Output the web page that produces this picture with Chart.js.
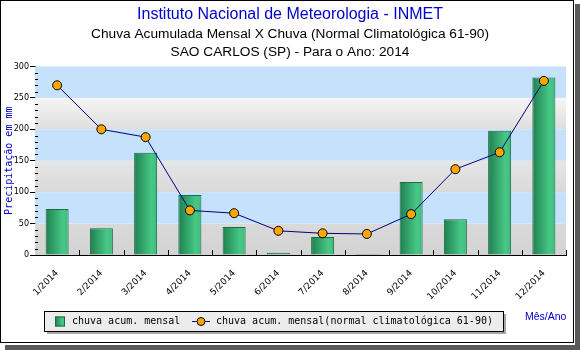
<!DOCTYPE html>
<html><head><meta charset="utf-8">
<script src="https://cdn.jsdelivr.net/npm/chart.js@4/dist/chart.umd.min.js"></script>
<style>html,body{margin:0;padding:0;background:#fff;}#wrap{width:580px;height:350px;position:relative;}</style>
</head><body><div id="wrap"><canvas id="c" width="580" height="350"></canvas></div>
<script>
// ---- data ----
const categories = ['1/2014','2/2014','3/2014','4/2014','5/2014','6/2014','7/2014','8/2014','9/2014','10/2014','11/2014','12/2014'];
const monthlyRain = [73, 42.5, 162.5, 95.5, 44.5, 3.5, 28.5, 1.5, 116, 57, 197.5, 282.5];
const normalRain = [270, 200, 187.5, 71, 66.5, 38.5, 34.5, 33.5, 65, 136.5, 163.5, 277];
const yTicks = [0, 50, 100, 150, 200, 250, 300];
const seriesLabels = ['chuva acum. mensal', 'chuva acum. mensal(normal climatológica 61-90)'];
const titleText = 'Instituto Nacional de Meteorologia - INMET';
const subtitleLines = ['Chuva Acumulada Mensal X Chuva (Normal Climatológica 61-90)', 'SAO CARLOS (SP) - Para o Ano: 2014'];
const yAxisTitle = 'Precipitação em mm';
const xAxisNote = 'Mês/Ano';

// ---- styles ----
const BLUE_BAND = '#c5e1fb';
const bands = [
  [0, 50, '#d9d9d9', '#d3d3d3'],
  [50, 100, BLUE_BAND, BLUE_BAND],
  [100, 150, '#e6e6e6', '#d9d9d9'],
  [150, 200, BLUE_BAND, BLUE_BAND],
  [200, 250, '#f6f6f6', '#dedede'],
  [250, 300, BLUE_BAND, BLUE_BAND]
];

function barGradient(ctx, x0, x1) {
  if (!isFinite(x0) || !isFinite(x1) || x0 === x1) return '#3cb371';
  const g = ctx.createLinearGradient(x0, 0, x1, 0);
  g.addColorStop(0, '#1f7f4f');
  g.addColorStop(0.75, '#47c886');
  g.addColorStop(1, '#3fbb7b');
  return g;
}

const framePlugin = {
  id: 'frame',
  beforeDraw(chart) {
    const c = chart.ctx;
    c.save();
    c.fillStyle = '#ffffff';
    c.fillRect(0, 0, 580, 350);
    c.fillStyle = '#5a5a5a';
    c.fillRect(575, 4, 5, 346);
    c.fillRect(5, 345, 575, 5);
    c.strokeStyle = '#000';
    c.lineWidth = 1;
    c.strokeRect(0.5, 0.5, 573, 342);
    c.restore();
  },
  beforeDatasetsDraw(chart) {
    const c = chart.ctx, ca = chart.chartArea, ys = chart.scales.y;
    c.save();
    bands.forEach(([a, b, top, bot]) => {
      const y0 = ys.getPixelForValue(b), y1 = ys.getPixelForValue(a);
      const g = c.createLinearGradient(0, y0, 0, y1);
      g.addColorStop(0, top); g.addColorStop(1, bot);
      c.fillStyle = g;
      c.fillRect(ca.left, y0, ca.right - ca.left, y1 - y0);
    });
    c.restore();
  },
  afterDraw(chart) {
    const c = chart.ctx, ca = chart.chartArea, ys = chart.scales.y, xs = chart.scales.x;
    c.save();
    c.strokeStyle = '#000';
    c.lineWidth = 1;
    c.beginPath();
    for (let v = ys.min; v <= ys.max; v += 10) {
      if (v % 50 === 0) continue;
      const y = Math.round(ys.getPixelForValue(v)) + 0.5;
      c.moveTo(ca.left, y); c.lineTo(ca.left + 3, y);
    }
    for (let i = 1; i <= categories.length; i++) {
      const x = Math.round(xs.getPixelForValue(i - 0.5)) + 0.5;
      c.moveTo(x, ca.bottom); c.lineTo(x, ca.bottom - 5);
    }
    c.stroke();

    // legend
    const lx = 44, ly = 311, lw = 459, lh = 20;
    c.fillStyle = '#a8a8a8';
    c.fillRect(lx + 3, ly + 3, lw, lh);
    c.fillStyle = '#ececec';
    c.fillRect(lx, ly, lw, lh);
    c.strokeStyle = '#000';
    c.strokeRect(lx + 0.5, ly + 0.5, lw, lh);
    const cy = ly + lh / 2 + 0.5;
    c.fillStyle = barGradient(c, 55, 65);
    c.fillRect(55, cy - 5, 10, 10);
    c.strokeStyle = '#1b6b44';
    c.strokeRect(55.5, cy - 4.5, 9, 9);
    c.font = '10px "DejaVu Sans Mono"';
    c.fillStyle = '#000';
    c.textBaseline = 'middle';
    c.textAlign = 'left';
    c.fillText(seriesLabels[0], 72, cy);
    c.strokeStyle = '#000080';
    c.beginPath(); c.moveTo(192, cy); c.lineTo(210, cy); c.stroke();
    c.beginPath(); c.arc(201, cy, 4, 0, Math.PI * 2);
    c.fillStyle = '#ffa500'; c.fill();
    c.strokeStyle = '#000'; c.stroke();
    c.fillStyle = '#000';
    c.fillText(seriesLabels[1], 216, cy);

    c.font = '10.5px "Liberation Sans"';
    c.fillStyle = '#0000cc';
    c.fillText(xAxisNote, 525, 317);
    c.restore();
  }
};

new Chart(document.getElementById('c'), {
  type: 'bar',
  data: {
    labels: categories,
    datasets: [
      {
        type: 'line',
        label: seriesLabels[1],
        data: normalRain,
        borderColor: '#000080',
        borderWidth: 1,
        tension: 0,
        pointRadius: 4.5,
        pointBackgroundColor: '#ffa500',
        pointBorderColor: '#000',
        pointBorderWidth: 1,
        order: 0
      },
      {
        type: 'bar',
        label: seriesLabels[0],
        data: monthlyRain,
        backgroundColor: (ctx) => {
          const xs = ctx.chart.scales.x;
          if (!xs || ctx.dataIndex === undefined || !ctx.chart.chartArea) return '#3cb371';
          const cx = xs.getPixelForValue(ctx.dataIndex);
          const cw = Math.abs(xs.getPixelForValue(1) - xs.getPixelForValue(0)) * 0.52;
          return barGradient(ctx.chart.ctx, cx - cw / 2, cx + cw / 2);
        },
        borderColor: '#1b6b44',
        borderWidth: 1,
        barPercentage: 0.52,
        categoryPercentage: 1,
        order: 1
      }
    ]
  },
  options: {
    responsive: false,
    devicePixelRatio: 1,
    animation: false,
    events: [],
    layout: { padding: { left: 0, right: 0, top: 0, bottom: 45 } },
    plugins: {
      legend: { display: false },
      tooltip: { enabled: false },
      title: {
        display: true, text: titleText, color: '#0000cc',
        font: { family: 'Liberation Sans', size: 16, weight: 'normal', lineHeight: 1.2 },
        padding: { top: 4.5, bottom: 1.5 }
      },
      subtitle: {
        display: true, text: subtitleLines, color: '#000',
        font: { family: 'Liberation Sans', size: 13.7, weight: 'normal', lineHeight: 1.29 },
        padding: { top: 0.5, bottom: 5.4 }
      }
    },
    scales: {
      x: {
        offset: true,
        grid: { display: false, drawTicks: false },
        border: { display: true, color: '#000', width: 1 },
        ticks: {
          autoSkip: false, minRotation: 45, maxRotation: 45, padding: 13,
          color: '#000', font: { family: 'DejaVu Sans', size: 9 }
        },
        afterFit: (s) => { s.height = 50; }
      },
      y: {
        min: 0, max: 300,
        afterBuildTicks: (s) => { s.ticks = yTicks.map(v => ({ value: v })); },
        grid: { drawOnChartArea: false, drawTicks: true, tickLength: 5, color: '#000', tickColor: '#000' },
        border: { display: true, color: '#000', width: 1 },
        ticks: { padding: 1, color: '#000', font: { family: 'DejaVu Sans', size: 8 } },
        title: {
          display: true, text: yAxisTitle, color: '#0000cc',
          font: { family: 'DejaVu Sans Mono', size: 10 }, padding: { top: 3, bottom: 0 }
        },
        afterFit: (s) => { s.width = 35; }
      },
      yRight: {
        position: 'right',
        display: true,
        grid: { display: false, drawTicks: false },
        border: { display: false },
        ticks: { display: false },
        afterFit: (s) => { s.width = 14; }
      }
    }
  },
  plugins: [framePlugin]
});
</script>
</body></html>
